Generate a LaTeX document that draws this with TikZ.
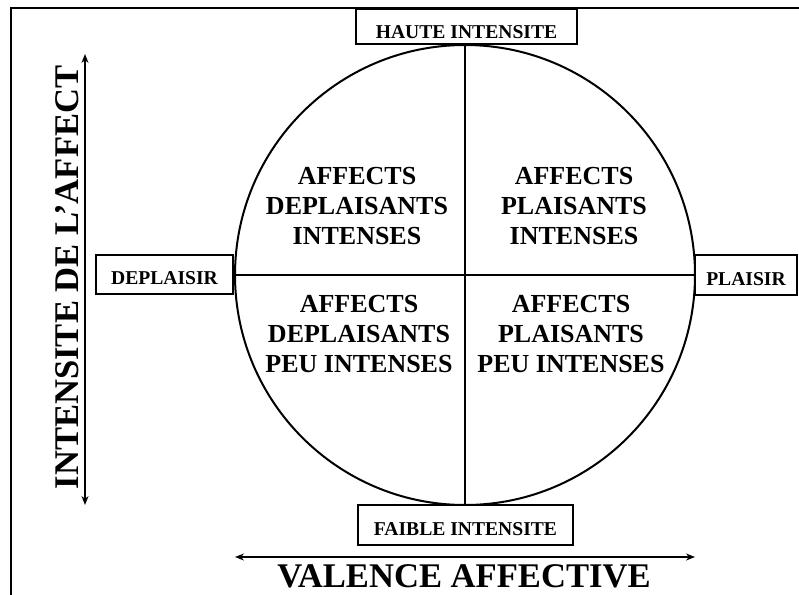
\documentclass[tikz,border=0pt]{standalone}
\usepackage{fontspec}
\setmainfont{Liberation Serif}
\usetikzlibrary{arrows.meta}
\begin{document}
\begin{tikzpicture}[x=1pt,y=-1pt,
  lbl/.style={draw, line width=1.8pt, inner sep=0pt, fill=white,
    font=\fontsize{19.6}{22}\selectfont\bfseries, text height=20pt, text depth=0pt},
  quad/.style={align=center, inner sep=0pt, font=\fontsize{26}{30}\selectfont\bfseries},
  axis/.style={line width=1.4pt, {Stealth[length=9pt,width=7pt]}-{Stealth[length=9pt,width=7pt]}},
  big/.style={inner sep=0pt, font=\fontsize{34.6}{40}\selectfont\bfseries}]
\useasboundingbox (0,0) rectangle (799,594);
% frame
\coordinate (fa) at (11,600);
\coordinate (fb) at (11,8);
\coordinate (fc) at (805,8);
\draw[line width=2pt] (fa) -- (fb) -- (fc);
% circle and axes inside
\node[draw, circle, line width=2pt, minimum size=460pt, inner sep=0pt] (c) at (465,275) {};
\draw[line width=2pt] (c.north) -- (c.south);
\draw[line width=2pt] (c.west) -- (c.east);
% boxes
\node[lbl, minimum width=221pt, minimum height=35pt, text height=24pt] (hi) at (466.5,26.5) {HAUTE INTENSITE};
\node[lbl, minimum width=137pt, minimum height=39pt] (dp) at (164.5,274.5) {DEPLAISIR};
\node[lbl, minimum width=102pt, minimum height=40pt] (pl) at (746,275) {PLAISIR};
\node[lbl, minimum width=215pt, minimum height=40pt] (fi) at (465.5,525) {FAIBLE INTENSITE};
% quadrant texts
\node[quad] (ul) at (357,206.5) {AFFECTS\\DEPLAISANTS\\INTENSES};
\node[quad] (ur) at (574,206.5) {AFFECTS\\PLAISANTS\\INTENSES};
\node[quad] (ll) at (359,334) {AFFECTS\\DEPLAISANTS\\PEU INTENSES};
\node[quad] (lr) at (571,334) {AFFECTS\\PLAISANTS\\PEU INTENSES};
% axis arrows
\coordinate (vt) at (85,54);
\coordinate (vb) at (85,505);
\draw[axis] (vb) -- (vt);
\coordinate (hl) at (235,557);
\coordinate (hr) at (695,557);
\draw[axis] (hl) -- (hr);
% axis titles
\node[big, anchor=base] (va) at (464,587) {VALENCE AFFECTIVE};
\node[big, anchor=base, rotate=90] (ia) at (78,277.5) {INTENSITE DE L’AFFECT};
\end{tikzpicture}
\end{document}
